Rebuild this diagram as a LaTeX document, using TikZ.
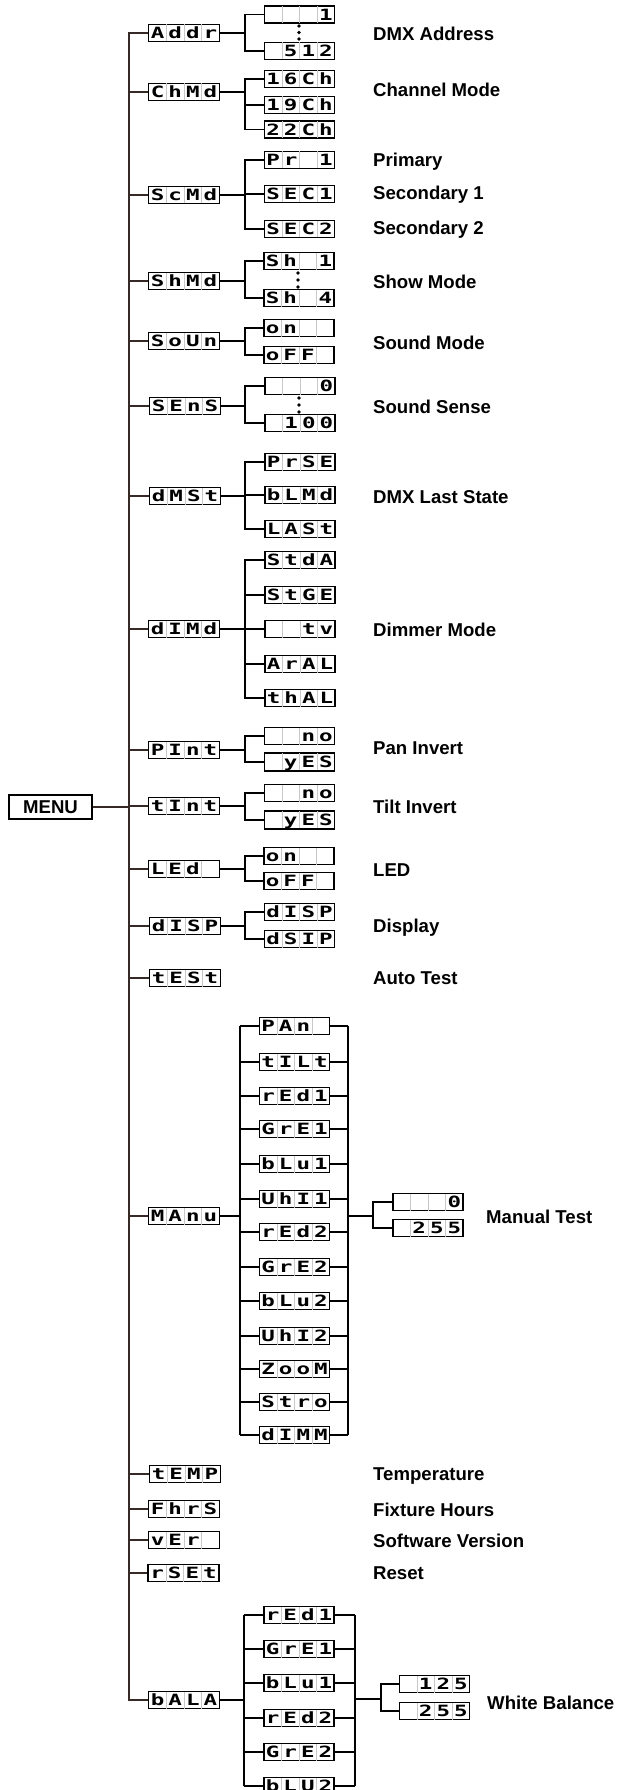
\documentclass[tikz,border=0pt]{standalone}
\usepackage{fontspec}
\setmainfont{Liberation Sans}
\newfontfamily\segf{DejaVu Sans Mono Bold}
\usepackage{graphicx}
\usetikzlibrary{calc}
\definecolor{cellsep}{RGB}{200,200,200}
\definecolor{trunkcol}{RGB}{55,42,38}
\newcommand{\segc}[1]{\makebox[17.05pt]{\raisebox{-5.6pt}{\scalebox{1.45}[1]{\segf\fontsize{15.5}{15.5}\selectfont #1}}}}
\newcommand{\segsep}{{\color{cellsep}\vrule width 0.6pt height 8.5pt depth 8.5pt}}
\newcommand{\dsp}[4]{\segc{#1}\segsep\segc{#2}\segsep\segc{#3}\segsep\segc{#4}}
\begin{document}
\begin{tikzpicture}[x=1pt,y=-1pt,
  mbox/.style={draw, line width=1.8pt, inner sep=0pt, minimum width=71pt, minimum height=17pt, fill=white},
  sbox/.style={draw, line width=1.8pt, inner sep=0pt, minimum width=70pt, minimum height=17pt, fill=white},
  lab/.style={anchor=base west, inner sep=0pt, font=\bfseries\fontsize{18.6}{20}\selectfont},
  conn/.style={line width=1.6pt},
  trunk/.style={line width=1.4pt, draw=trunkcol},
  dotm/.style={fill=black}]
\useasboundingbox[fill=white] (0,0) rectangle (618,1790);

% ---------- MENU and trunk ----------
\node[draw, line width=1.5pt, minimum width=83pt, minimum height=24pt, inner sep=0pt,
      font=\bfseries\fontsize{18.6}{20}\selectfont] (menu) at (50.5,807) {MENU};
\coordinate (ttop) at (129,33);
\coordinate (tbot) at (129,1700);

% ---------- Addr ----------
\node[mbox] (addr) at (184,33) {\dsp{A}{d}{d}{r}};
\node[sbox] (addr1) at (299.5,14.5) {\dsp{}{}{}{1}};
\node[sbox] (addr2) at (299.5,51) {\dsp{}{5}{1}{2}};
\foreach \yy in {26,32.5,39} \fill[dotm] (299,\yy) circle (1.9pt);
\node[lab] (laddr) at (373,40.5) {DMX Address};
\coordinate (addrB) at (245,33);
\draw[conn] (addr.east) -- (addrB);
\draw[conn] (addr1.west) -| (addrB);
\draw[conn] (addr2.west) -| (addrB);

% ---------- ChMd ----------
\node[mbox] (chmd) at (184,92) {\dsp{C}{h}{M}{d}};
\node[sbox] (chmd1) at (299.5,79) {\dsp{1}{6}{C}{h}};
\node[sbox] (chmd2) at (299.5,105) {\dsp{1}{9}{C}{h}};
\node[sbox] (chmd3) at (299.5,129.5) {\dsp{2}{2}{C}{h}};
\node[lab] (lchmd) at (373,96.5) {Channel Mode};
\coordinate (chmdB) at (245,92);
\draw[conn] (chmd.east) -- (chmdB);
\draw[conn] (chmd1.west) -| (chmdB);
\draw[conn] (chmd3.west) -| (chmdB);
\draw[conn] (chmd2.west) -- (chmd2.west -| chmdB);

% ---------- ScMd ----------
\node[mbox] (scmd) at (184,195) {\dsp{S}{c}{M}{d}};
\node[sbox] (scmd1) at (299.5,160) {\dsp{P}{r}{}{1}};
\node[sbox] (scmd2) at (299.5,194) {\dsp{S}{E}{C}{1}};
\node[sbox] (scmd3) at (299.5,229) {\dsp{S}{E}{C}{2}};
\node[lab] (lscmd1) at (373,166.5) {Primary};
\node[lab] (lscmd2) at (373,200) {Secondary 1};
\node[lab] (lscmd3) at (373,234) {Secondary 2};
\coordinate (scmdB) at (245,195);
\draw[conn] (scmd.east) -- (scmdB);
\draw[conn] (scmd1.west) -| (scmdB);
\draw[conn] (scmd3.west) -| (scmdB);
\draw[conn] (scmd2.west) -- (scmd2.west -| scmdB);

% ---------- ShMd ----------
\node[mbox] (shmd) at (184,281) {\dsp{S}{h}{M}{d}};
\node[sbox] (shmd1) at (299,261) {\dsp{S}{h}{}{1}};
\node[sbox] (shmd2) at (299,298) {\dsp{S}{h}{}{4}};
\foreach \yy in {273,280,287} \fill[dotm] (298,\yy) circle (1.9pt);
\node[lab] (lshmd) at (373,288.5) {Show Mode};
\coordinate (shmdB) at (245,281);
\draw[conn] (shmd.east) -- (shmdB);
\draw[conn] (shmd1.west) -| (shmdB);
\draw[conn] (shmd2.west) -| (shmdB);

% ---------- SoUn ----------
\node[mbox] (soun) at (184,341) {\dsp{S}{o}{U}{n}};
\node[sbox] (soun1) at (299,328) {\dsp{o}{n}{}{}};
\node[sbox] (soun2) at (299,355) {\dsp{o}{F}{F}{}};
\node[lab] (lsoun) at (373,349.5) {Sound Mode};
\coordinate (sounB) at (245,341);
\draw[conn] (soun.east) -- (sounB);
\draw[conn] (soun1.west) -| (sounB);
\draw[conn] (soun2.west) -| (sounB);

% ---------- SEnS ----------
\node[mbox] (sens) at (185,406) {\dsp{S}{E}{n}{S}};
\node[sbox] (sens1) at (300,386) {\dsp{}{}{}{0}};
\node[sbox] (sens2) at (300,423) {\dsp{}{1}{0}{0}};
\foreach \yy in {398,405,412} \fill[dotm] (299,\yy) circle (1.9pt);
\node[lab] (lsens) at (373,413.5) {Sound Sense};
\coordinate (sensB) at (245,406);
\draw[conn] (sens.east) -- (sensB);
\draw[conn] (sens1.west) -| (sensB);
\draw[conn] (sens2.west) -| (sensB);

% ---------- dMSt ----------
\node[mbox] (dmst) at (185,496) {\dsp{d}{M}{S}{t}};
\node[sbox] (dmst1) at (300,462) {\dsp{P}{r}{S}{E}};
\node[sbox] (dmst2) at (300,495) {\dsp{b}{L}{M}{d}};
\node[sbox] (dmst3) at (300,529) {\dsp{L}{A}{S}{t}};
\node[lab] (ldmst) at (373,503.5) {DMX Last State};
\coordinate (dmstB) at (245,496);
\draw[conn] (dmst.east) -- (dmstB);
\draw[conn] (dmst1.west) -| (dmstB);
\draw[conn] (dmst3.west) -| (dmstB);
\draw[conn] (dmst2.west) -- (dmst2.west -| dmstB);

% ---------- dIMd ----------
\node[mbox] (dimd) at (184,629) {\dsp{d}{I}{M}{d}};
\node[sbox] (dimd1) at (300,560) {\dsp{S}{t}{d}{A}};
\node[sbox] (dimd2) at (300,595) {\dsp{S}{t}{G}{E}};
\node[sbox] (dimd3) at (300,629) {\dsp{}{}{t}{v}};
\node[sbox] (dimd4) at (300,664) {\dsp{A}{r}{A}{L}};
\node[sbox] (dimd5) at (300,698) {\dsp{t}{h}{A}{L}};
\node[lab] (ldimd) at (373,636) {Dimmer Mode};
\coordinate (dimdB) at (245,629);
\draw[conn] (dimd.east) -- (dimd3.west);
\draw[conn] (dimd1.west) -| (dimdB);
\draw[conn] (dimd5.west) -| (dimdB);
\draw[conn] (dimd2.west) -- (dimd2.west -| dimdB);
\draw[conn] (dimd4.west) -- (dimd4.west -| dimdB);

% ---------- PInt ----------
\node[mbox] (pint) at (184,750) {\dsp{P}{I}{n}{t}};
\node[sbox] (pint1) at (299.5,736) {\dsp{}{}{n}{o}};
\node[sbox] (pint2) at (299.5,762) {\dsp{}{y}{E}{S}};
\node[lab] (lpint) at (373,754) {Pan Invert};
\coordinate (pintB) at (245,750);
\draw[conn] (pint.east) -- (pintB);
\draw[conn] (pint1.west) -| (pintB);
\draw[conn] (pint2.west) -| (pintB);

% ---------- tInt ----------
\node[mbox] (tint) at (184,806) {\dsp{t}{I}{n}{t}};
\node[sbox] (tint1) at (299.5,793) {\dsp{}{}{n}{o}};
\node[sbox] (tint2) at (299.5,820) {\dsp{}{y}{E}{S}};
\node[lab] (ltint) at (373,813.5) {Tilt Invert};
\coordinate (tintB) at (245,806);
\draw[conn] (tint.east) -- (tintB);
\draw[conn] (tint1.west) -| (tintB);
\draw[conn] (tint2.west) -| (tintB);

% ---------- LEd ----------
\node[mbox] (led) at (184,869) {\dsp{L}{E}{d}{}};
\node[sbox] (led1) at (299,856) {\dsp{o}{n}{}{}};
\node[sbox] (led2) at (299,881) {\dsp{o}{F}{F}{}};
\node[lab] (lled) at (373,876.5) {LED};
\coordinate (ledB) at (245,869);
\draw[conn] (led.east) -- (ledB);
\draw[conn] (led1.west) -| (ledB);
\draw[conn] (led2.west) -| (ledB);

% ---------- dISP ----------
\node[mbox] (disp) at (185,926) {\dsp{d}{I}{S}{P}};
\node[sbox] (disp1) at (299.5,912) {\dsp{d}{I}{S}{P}};
\node[sbox] (disp2) at (299.5,939) {\dsp{d}{S}{I}{P}};
\node[lab] (ldisp) at (373,932.5) {Display};
\coordinate (dispB) at (245,926);
\draw[conn] (disp.east) -- (dispB);
\draw[conn] (disp1.west) -| (dispB);
\draw[conn] (disp2.west) -| (dispB);

% ---------- tESt ----------
\node[mbox] (test) at (185,978) {\dsp{t}{E}{S}{t}};
\node[lab] (ltest) at (373,984.5) {Auto Test};

% ---------- MAnu ----------
\node[mbox] (manu) at (184,1216) {\dsp{M}{A}{n}{u}};
\coordinate (manL) at (240,1216);
\coordinate (manR) at (348,1216);
\coordinate (manT) at (373,1216);
\node[sbox] (m1) at (294.5,1026) {\dsp{P}{A}{n}{}};
\node[sbox] (m2) at (294.5,1062) {\dsp{t}{I}{L}{t}};
\node[sbox] (m3) at (294.5,1096) {\dsp{r}{E}{d}{1}};
\node[sbox] (m4) at (294.5,1129) {\dsp{G}{r}{E}{1}};
\node[sbox] (m5) at (294.5,1164) {\dsp{b}{L}{u}{1}};
\node[sbox] (m6) at (294.5,1199) {\dsp{U}{h}{I}{1}};
\node[sbox] (m7) at (294.5,1232) {\dsp{r}{E}{d}{2}};
\node[sbox] (m8) at (294.5,1267) {\dsp{G}{r}{E}{2}};
\node[sbox] (m9) at (294.5,1301) {\dsp{b}{L}{u}{2}};
\node[sbox] (m10) at (294.5,1336) {\dsp{U}{h}{I}{2}};
\node[sbox] (m11) at (294.5,1369) {\dsp{Z}{o}{o}{M}};
\node[sbox] (m12) at (294.5,1402) {\dsp{S}{t}{r}{o}};
\node[sbox] (m13) at (294.5,1435) {\dsp{d}{I}{M}{M}};
\draw[conn] (manu.east) -- (manL);
\draw[conn] (m1.west -| manL) -- (m13.west -| manL);
\draw[conn] (m1.east -| manR) -- (m13.east -| manR);
\foreach \k in {1,...,13} {
  \draw[conn] (m\k.west) -- (m\k.west -| manL);
  \draw[conn] (m\k.east) -- (m\k.east -| manR);
}
\node[sbox] (mt1) at (428,1202) {\dsp{}{}{}{0}};
\node[sbox] (mt2) at (428,1228) {\dsp{}{2}{5}{5}};
\draw[conn] (manR) -- (manT);
\draw[conn] (mt1.west) -| (manT);
\draw[conn] (mt2.west) -| (manT);
\node[lab] (lmanu) at (486,1223.5) {Manual Test};

% ---------- tEMP / FhrS / vEr / rSEt ----------
\node[mbox] (temp) at (185,1474) {\dsp{t}{E}{M}{P}};
\node[lab] (ltemp) at (373,1480) {Temperature};
\node[mbox] (fhrs) at (184,1509) {\dsp{F}{h}{r}{S}};
\node[lab] (lfhrs) at (373,1516) {Fixture Hours};
\node[mbox] (ver) at (184,1540) {\dsp{v}{E}{r}{}};
\node[lab] (lver) at (373,1547) {Software Version};
\node[mbox] (rset) at (183.5,1573) {\dsp{r}{S}{E}{t}};
\node[lab] (lrset) at (373,1579.5) {Reset};

% ---------- bALA ----------
\node[mbox] (bala) at (184,1700) {\dsp{b}{A}{L}{A}};
\coordinate (balL) at (244,1700);
\coordinate (balR) at (355,1699);
\coordinate (balT) at (381,1699);
\node[sbox] (b1) at (299,1615) {\dsp{r}{E}{d}{1}};
\node[sbox] (b2) at (299,1649) {\dsp{G}{r}{E}{1}};
\node[sbox] (b3) at (299,1683) {\dsp{b}{L}{u}{1}};
\node[sbox] (b4) at (299,1718) {\dsp{r}{E}{d}{2}};
\node[sbox] (b5) at (299,1752) {\dsp{G}{r}{E}{2}};
\node[sbox] (b6) at (299,1786) {\dsp{b}{L}{U}{2}};
\draw[conn] (bala.east) -- (balL);
\draw[conn] (b1.west -| balL) -- (b6.west -| balL);
\draw[conn] (b1.east -| balR) -- (b6.east -| balR);
\foreach \k in {1,...,6} {
  \draw[conn] (b\k.west) -- (b\k.west -| balL);
  \draw[conn] (b\k.east) -- (b\k.east -| balR);
}
\node[sbox] (wb1) at (434.5,1684) {\dsp{}{1}{2}{5}};
\node[sbox] (wb2) at (434.5,1711) {\dsp{}{2}{5}{5}};
\draw[conn] (balR) -- (balT);
\draw[conn] (wb1.west) -| (balT);
\draw[conn] (wb2.west) -| (balT);
\node[lab] (lbala) at (487,1709) {White Balance};

% ---------- trunk ----------
\draw[trunk] (addr.west) -- (ttop) -- (tbot) -- (bala.west);
\foreach \n in {chmd,scmd,shmd,soun,sens,dmst,dimd,pint,tint,led,disp,test,manu,temp,fhrs,ver,rset}
  \draw[trunk] (\n.west) -- (\n.west -| ttop);
\draw[trunk] (menu.east) -- (menu.east -| ttop);
\end{tikzpicture}
\end{document}
